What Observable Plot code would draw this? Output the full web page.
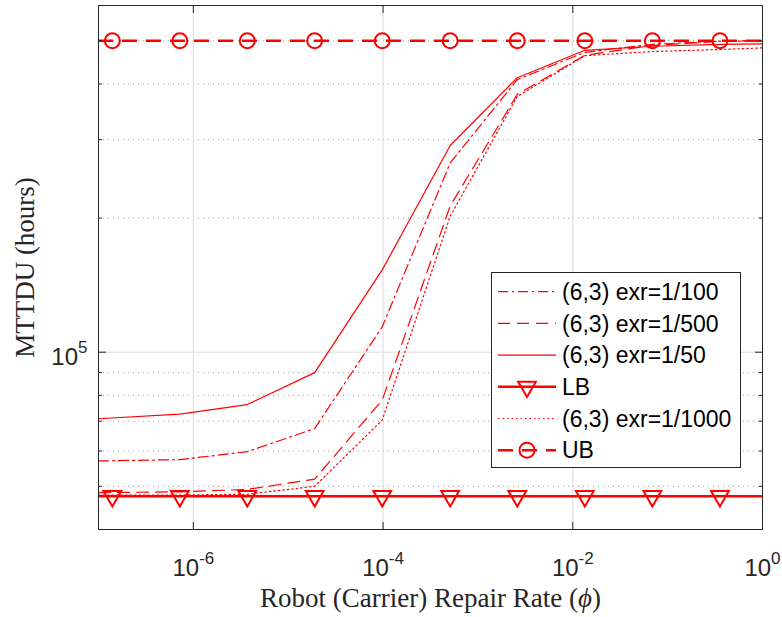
<!DOCTYPE html>
<html><head><meta charset="utf-8">
<script src="https://cdn.jsdelivr.net/npm/d3@7"></script>
<script src="https://cdn.jsdelivr.net/npm/@observablehq/plot@0.6"></script>
<style>html,body{margin:0;padding:0;background:#fff;overflow:hidden} svg{display:block}</style>
</head><body><div id="chart"></div>
<script>
// ---- data ----
const repairRate = [1e-7, 7.2e-7, 3.7e-6, 1.9e-5, 9.8e-5, 5.1e-4, 2.6e-3, 1.34e-2, 6.9e-2, 0.356, 1];
const exr50   = [7.09e4, 7.26e4, 7.63e4, 9.0e4, 1.53e5, 2.91e5, 4.13e5, 4.76e5, 4.86e5, 4.91e5, 4.92e5];
const exr100  = [5.70e4, 5.74e4, 5.98e4, 6.74e4, 1.14e5, 2.66e5, 4.09e5, 4.71e5, 4.91e5, 4.99e5, 4.99e5];
const exr500  = [4.84e4, 4.86e4, 4.92e4, 5.19e4, 7.81e4, 2.13e5, 3.79e5, 4.64e5, 4.88e5, 4.99e5, 5.0e5];
const exr1000 = [4.78e4, 4.78e4, 4.80e4, 5.0e4, 7.04e4, 2.02e5, 3.75e5, 4.63e5, 4.73e5, 4.78e5, 4.82e5];
const markerRate = [1.4e-7, 7.2e-7, 3.7e-6, 1.9e-5, 9.8e-5, 5.1e-4, 2.6e-3, 1.34e-2, 6.9e-2, 0.356];
const lowerBound = 4.75e4;
const upperBound = 5.0e5;
const xTicks = [1e-6, 1e-4, 1e-2, 1];
const yTicks = [1e5];
const yMinor = [5e4, 6e4, 7e4, 8e4, 9e4, 2e5, 3e5, 4e5, 5e5];
const xDomain = [1e-7, 1];
const yDomain = [4e4, 6e5];
const legendLabels = ["(6,3) exr=1/100", "(6,3) exr=1/500", "(6,3) exr=1/50", "LB", "(6,3) exr=1/1000", "UB"];
const xLabel = "Robot (Carrier) Repair Rate (ϕ)";
const yLabel = "MTTDU (hours)";

// ---- styling ----
const RED = "#ff0000";
const AX = "#262626";
const SANS = "'Liberation Sans', Arial, sans-serif";
const SERIF = "'Liberation Serif', 'Times New Roman', serif";
const DASHDOT = "10,4,2,4", DASHED = "12,7", DOTTED = "1.5,3", UBDASH = "15,9";

const rows = (vals) => repairRate.map((x, i) => ({x, y: vals[i]}));
const noText = () => "";

const plot = Plot.plot({
  width: 782, height: 617,
  marginLeft: 98, marginRight: 20, marginTop: 5, marginBottom: 88,
  x: {type: "log", domain: xDomain, axis: null, label: null},
  y: {type: "log", domain: yDomain, axis: null, label: null},
  style: {fontFamily: SANS, background: "#fff"},
  marks: [
    Plot.gridY(yMinor, {stroke: "#a0a0a0", strokeOpacity: 1, strokeDasharray: "1,4"}),
    Plot.gridY(yTicks, {stroke: "#dcdcdc", strokeOpacity: 1}),
    Plot.gridX(xTicks.filter(d => d < 1), {stroke: "#dcdcdc", strokeOpacity: 1}),
    Plot.line(rows(exr100), {x: "x", y: "y", stroke: RED, strokeWidth: 1.2, strokeDasharray: DASHDOT}),
    Plot.line(rows(exr500), {x: "x", y: "y", stroke: RED, strokeWidth: 1.2, strokeDasharray: DASHED}),
    Plot.line(rows(exr50), {x: "x", y: "y", stroke: RED, strokeWidth: 1.2}),
    Plot.ruleY([lowerBound], {stroke: RED, strokeWidth: 2.5}),
    Plot.dot(markerRate, {x: d => d, y: () => lowerBound, symbol: "triangle", rotate: 180, r: 6.6, stroke: RED, strokeWidth: 2, fill: "none"}),
    Plot.line(rows(exr1000), {x: "x", y: "y", stroke: RED, strokeWidth: 1.2, strokeDasharray: DOTTED}),
    Plot.ruleY([upperBound], {stroke: RED, strokeWidth: 2.5, strokeDasharray: UBDASH}),
    Plot.dot(markerRate, {x: d => d, y: () => upperBound, r: 7.5, stroke: RED, strokeWidth: 2, fill: "none"}),
    Plot.frame({stroke: AX, strokeWidth: 1}),
    Plot.axisX(xTicks, {anchor: "bottom", tickSize: -7, tickFormat: noText, color: AX, label: null}),
    Plot.axisX(xTicks, {anchor: "top", tickSize: -7, tickFormat: noText, color: AX, label: null}),
    Plot.axisX(xTicks, {anchor: "bottom", tickSize: 0, tickPadding: 29, tickFormat: d => String(Math.round(Math.log10(d))), fontSize: 24, color: AX, label: null}),
    Plot.axisY(yTicks, {anchor: "left", tickSize: -8, tickFormat: noText, color: AX, label: null}),
    Plot.axisY(yMinor, {anchor: "left", tickSize: -4, tickFormat: noText, color: AX, label: null}),
    Plot.axisY(yTicks, {anchor: "right", tickSize: -8, tickFormat: noText, color: AX, label: null}),
    Plot.axisY(yMinor, {anchor: "right", tickSize: -4, tickFormat: noText, color: AX, label: null}),
    Plot.axisY(yTicks, {anchor: "left", tickSize: 0, tickPadding: 11, dy: 5, tickFormat: d => String(Math.round(Math.log10(d))), fontSize: 24, color: AX, label: null}),
    Plot.text([yLabel], {text: d => d, frameAnchor: "left", rotate: -90, dx: -65, textAnchor: "middle", lineAnchor: "bottom", fontFamily: SERIF, fontSize: 27, fill: AX}),
    Plot.text([xLabel], {text: d => d, frameAnchor: "bottom", dy: 77.5, textAnchor: "middle", lineAnchor: "bottom", fontFamily: SERIF, fontSize: 27, fill: AX})
  ]
});

document.getElementById("chart").appendChild(plot);
const svg = d3.select(plot);
const NS = "http://www.w3.org/2000/svg";

// superscript exponent tick labels: 10^k
svg.selectAll('g[aria-label="x-axis tick label"] text, g[aria-label="y-axis tick label"] text').each(function() {
  const exp = this.textContent;
  if (exp === "") return;
  this.textContent = "10";
  const sup = document.createElementNS(NS, "tspan");
  sup.setAttribute("dy", "-12");
  sup.setAttribute("font-size", "17");
  sup.textContent = exp;
  this.appendChild(sup);
});

// italic phi in the x label
svg.selectAll("text").each(function() {
  const t = this.textContent;
  if (t === xLabel) {
    const i = t.indexOf("ϕ");
    this.textContent = t.slice(0, i);
    const it = document.createElementNS(NS, "tspan");
    it.setAttribute("font-style", "italic");
    it.textContent = "ϕ";
    this.appendChild(it);
    this.appendChild(document.createTextNode(t.slice(i + 1)));
  }
});

// legend inside the axes
const lg = svg.append("g").attr("class", "legend").attr("text-anchor", "start");
lg.append("rect").attr("x", 491.5).attr("y", 272.5).attr("width", 249).attr("height", 195)
  .attr("fill", "#fff").attr("stroke", AX).attr("stroke-width", 1);
const styles = [
  {dash: DASHDOT, w: 1.2},
  {dash: DASHED, w: 1.2},
  {dash: null, w: 1.2},
  {dash: null, w: 2.5, marker: "tri"},
  {dash: DOTTED, w: 1.2},
  {dash: UBDASH, w: 2.5, marker: "circ"}
];
legendLabels.forEach((label, i) => {
  const y = 291.7 + 31.7 * i;
  const s = styles[i];
  const ln = lg.append("line").attr("x1", 498).attr("x2", 556).attr("y1", y).attr("y2", y)
    .attr("stroke", RED).attr("stroke-width", s.w);
  if (s.dash) ln.attr("stroke-dasharray", s.dash);
  if (s.marker === "tri") {
    const h = 5.1, w = 8.85;
    lg.append("path").attr("d", `M${527 - w},${y - h}L${527 + w},${y - h}L527,${y + 2 * h}Z`)
      .attr("fill", "none").attr("stroke", RED).attr("stroke-width", 2);
  }
  if (s.marker === "circ") {
    lg.append("circle").attr("cx", 527).attr("cy", y).attr("r", 7.5)
      .attr("fill", "none").attr("stroke", RED).attr("stroke-width", 2);
  }
  lg.append("text").attr("x", 562).attr("y", y).attr("dy", "0.36em").attr("text-anchor", "start")
    .attr("font-family", SANS).attr("font-size", 23).attr("fill", "#000").text(label);
});
</script>
</body></html>
